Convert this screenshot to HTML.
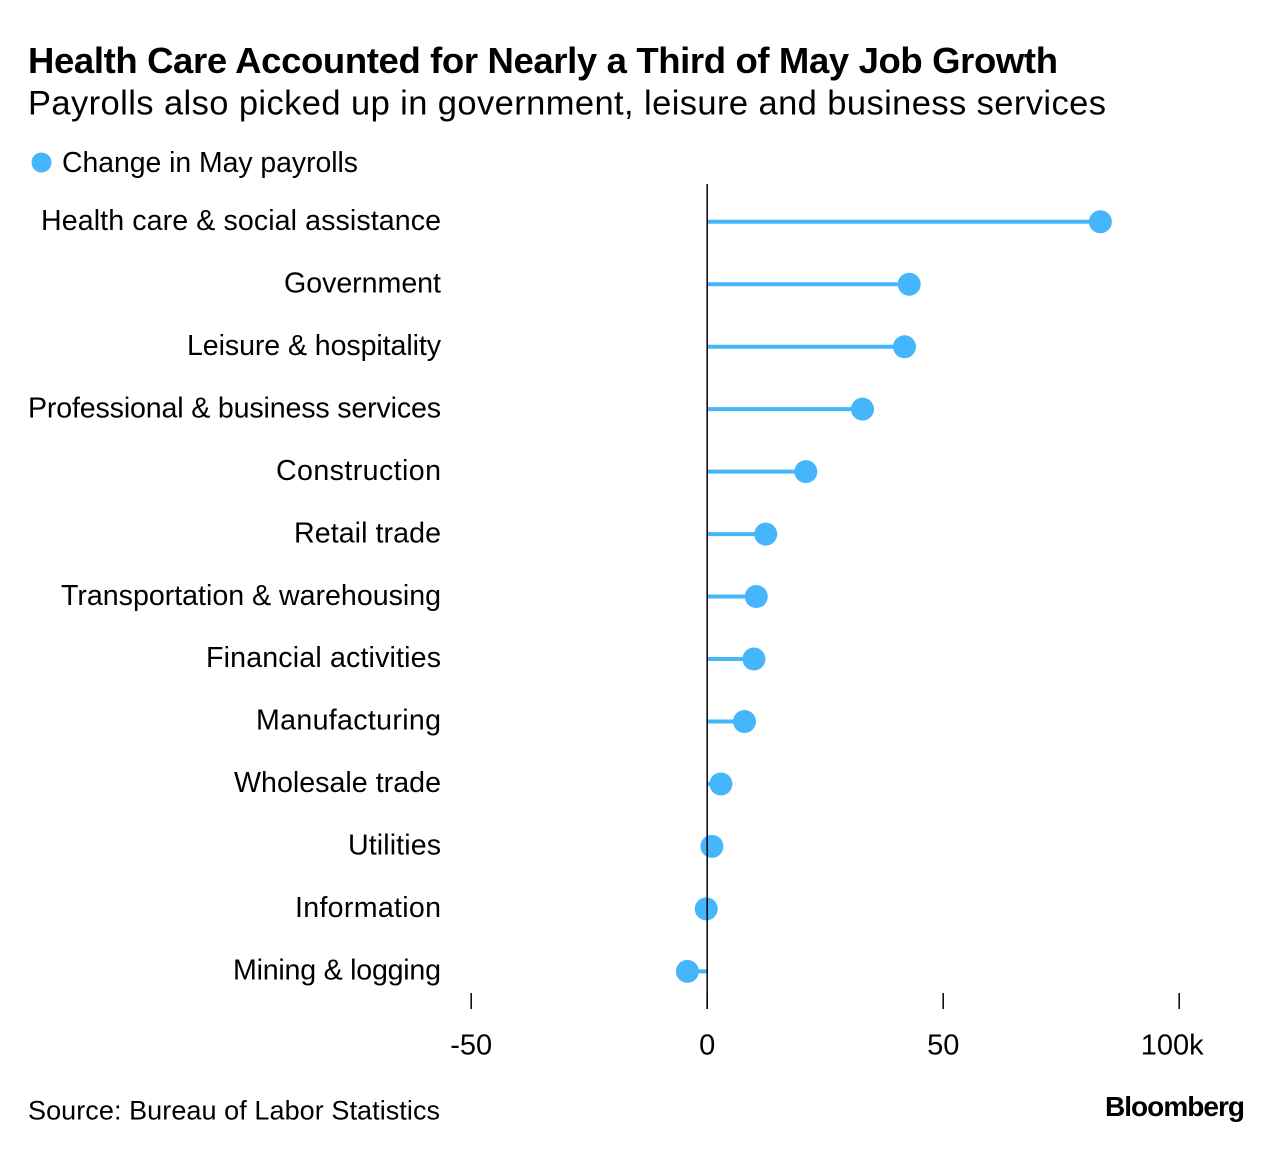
<!DOCTYPE html>
<html>
<head>
<meta charset="utf-8">
<title>Health Care Accounted for Nearly a Third of May Job Growth</title>
<style>
  html, body { margin: 0; padding: 0; background: #fff; }
  body { width: 1284px; height: 1152px; overflow: hidden; }
  svg { display: block; }
  text { font-family: "Liberation Sans", sans-serif; fill: #000; }
</style>
</head>
<body>
<svg id="chart" width="1284" height="1152" viewBox="0 0 1284 1152" xmlns="http://www.w3.org/2000/svg">
  <rect width="1284" height="1152" fill="#fff"/>
  <text x="28" y="73" font-size="36.5" font-weight="700" textLength="1030" lengthAdjust="spacing">Health Care Accounted for Nearly a Third of May Job Growth</text>
  <text x="28" y="114.5" font-size="34.5" textLength="1078" lengthAdjust="spacing">Payrolls also picked up in government, leisure and business services</text>
  <circle cx="41.5" cy="162.5" r="10" fill="#45b6fc"/>
  <text x="62" y="172.2" font-size="28.4" textLength="296" lengthAdjust="spacing">Change in May payrolls</text>
  <g id="rows"></g>
  <g id="axis"></g>
  <text x="28" y="1119.5" font-size="27" textLength="412" lengthAdjust="spacing">Source: Bureau of Labor Statistics</text>
  <text x="1105" y="1116" font-size="28" font-weight="700" textLength="140" lengthAdjust="spacing">Bloomberg</text>
</svg>
<script>
const categories = ["Health care & social assistance", "Government", "Leisure & hospitality", "Professional & business services", "Construction", "Retail trade", "Transportation & warehousing", "Financial activities", "Manufacturing", "Wholesale trade", "Utilities", "Information", "Mining & logging"];
const payrollChange = [83.3, 42.8, 41.8, 32.9, 20.9, 12.4, 10.4, 9.9, 7.9, 2.9, 1, -0.2, -4.2];
const tickValues = [-50, 0, 50, 100];
const tickLabels = ["-50", "0", "50", "100k"];

const labelFit = {
  "Health care & social assistance": 400,
  "Government": 157,
  "Leisure & hospitality": 254,
  "Professional & business services": 413,
  "Construction": 165,
  "Retail trade": 147,
  "Transportation & warehousing": 380,
  "Financial activities": 235,
  "Manufacturing": 185,
  "Wholesale trade": 207,
  "Utilities": 93,
  "Information": 146,
  "Mining & logging": 208
};

const NS = "http://www.w3.org/2000/svg";
function xScale(v) { return 707.2 + v * 4.72; }
function yScale(i) { return 221.8 + i * 62.46; }
function make(tag, attrs, parent, content) {
  const el = document.createElementNS(NS, tag);
  for (const k in attrs) el.setAttribute(k, attrs[k]);
  if (content !== undefined) el.textContent = content;
  parent.appendChild(el);
  return el;
}
const rows = document.getElementById("rows");
const axis = document.getElementById("axis");

categories.forEach(function (name, i) {
  const y = yScale(i);
  const labelAttrs = { x: 441, y: y + 8.2, "font-size": 28.6, "text-anchor": "end" };
  if (labelFit[name]) {
    labelAttrs.textLength = labelFit[name];
    labelAttrs.lengthAdjust = "spacing";
  }
  const label = make("text", labelAttrs, rows, name);
  
  
  const stem = make("line", { x1: xScale(0), x2: xScale(payrollChange[i]), y1: y, y2: y, stroke: "#45b6fc", "stroke-width": 4 }, rows);
  
  
});

const baseline = make("line", { x1: xScale(0), x2: xScale(0), y1: 184, y2: 1009, stroke: "#000", "stroke-width": 1.5 }, axis);



categories.forEach(function (name, i) {
  const dot = make("circle", { cx: xScale(payrollChange[i]), cy: yScale(i), r: 11.5, fill: "#45b6fc" }, rows);
  
  
});

tickValues.forEach(function (v, i) {
  const tick = make("line", { x1: xScale(v), x2: xScale(v), y1: 993, y2: 1009, stroke: "#000", "stroke-width": 1.5 }, axis);
  
  
  const isLast = i === tickValues.length - 1;
  const lab = make("text", { x: xScale(v) - (isLast ? 7 : 0), y: 1054.6, "font-size": 29, "text-anchor": "middle" }, axis, tickLabels[i]);
  
  
});
</script>
</body>
</html>
